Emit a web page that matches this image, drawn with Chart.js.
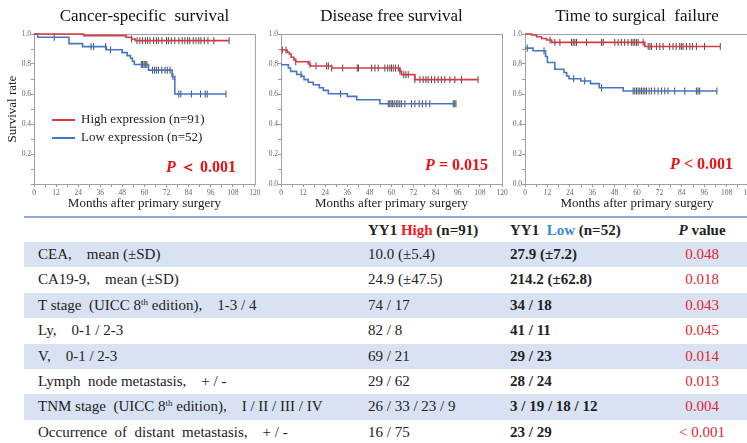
<!DOCTYPE html>
<html>
<head>
<meta charset="utf-8">
<script src="https://cdn.jsdelivr.net/npm/chart.js@4.4.0/dist/chart.umd.min.js"></script>
<style>
  body { margin: 0; width: 747px; height: 443px; overflow: hidden; background: #fff; position: relative;
         font-family: "Liberation Serif", "Times New Roman", serif; color: #222; }
  canvas { position: absolute; top: 0; }
  #c1 { left: 0; }
  #c2 { left: 255px; }
  #c3 { left: 505px; }
  #tbl { position: absolute; left: 24px; top: 216px; width: 723px; height: 227px; font-size: 15px; }
  .topline { position: absolute; left: 0; right: 0; top: 0; height: 2px; background: #8eaadb; }
  .headline { position: absolute; left: 0; right: 0; top: 26px; height: 1px; background: #8eaadb; }
  .row { position: absolute; left: 0; right: 0; height: 25.4px; line-height: 25.4px; white-space: pre; }
  .row.shade { background: #d9e2f3; }
  .row span { position: absolute; top: 0; }
  .c1 { left: 14px; }
  .c2 { left: 344px; }
  .c3 { left: 486px; font-weight: bold; }
  .c4 { left: 638px; width: 80px; text-align: center; color: #e3242b; }
  .hdr { font-weight: bold; }
  .hi { color: #ee1c25; }
  .lo { color: #3a8ad6; }
  sup { font-size: 9px; line-height: 0; vertical-align: 5px; }
</style>
</head>
<body>
<canvas id="c1" width="262" height="215"></canvas>
<canvas id="c2" width="255" height="215"></canvas>
<canvas id="c3" width="260" height="215"></canvas>
<div id="tbl"></div>

<script>
// axis tick labels
const monthLabels = [0, 12, 24, 36, 48, 60, 72, 84, 96, 108, 120];
const rateLabels = ['0.0', '0.2', '0.4', '0.6', '0.8', '1.0'];

// Cancer-specific survival
const cssHighT = [0, 27, 50, 53, 55, 106];
const cssHighS = [1, 0.989, 0.978, 0.967, 0.956, 0.956];
const cssHighC = [53, 56, 57.5, 59, 60.5, 61.7, 63, 65, 66.5, 67.6, 69.5, 72, 73, 74.6, 76.5, 78.7, 80.5, 82, 83.5, 84.6, 86.5, 88, 89.5, 90.7, 92.5, 94.5, 97.7, 106];
const cssLowT = [0, 2, 19, 26.4, 39.3, 47.9, 50.6, 52.4, 53.5, 54.5, 62.2, 75, 76.5, 104.3];
const cssLowS = [1, 0.978, 0.936, 0.916, 0.895, 0.876, 0.856, 0.838, 0.818, 0.797, 0.759, 0.717, 0.6, 0.6];
const cssLowC = [11, 31, 32.4, 38.9, 41.6, 58.3, 59, 59.8, 60.5, 61.3, 64.4, 65.5, 66.5, 67.6, 69.4, 71.2, 72.4, 73.9, 75.5, 78.7, 79.8, 85.5, 90.5, 93, 94.1, 104.3];

// Disease free survival
const dfsHighT = [0, 3.4, 4.5, 5.5, 7, 8, 14.8, 16, 27.5, 64.6, 65.5, 72.7, 107];
const dfsHighS = [0.893, 0.878, 0.867, 0.845, 0.827, 0.815, 0.8, 0.787, 0.773, 0.751, 0.729, 0.696, 0.696];
const dfsHighC = [0.7, 2.7, 8, 15.7, 19, 24.8, 25.7, 27.5, 33.5, 41.4, 42.1, 49.2, 51, 52.8, 56.4, 57.9, 59.1, 60, 61, 62.2, 63.7, 64.6, 66.7, 67.8, 69.1, 72.7, 75.4, 77.2, 78.7, 79.9, 81.7, 83.5, 85.3, 87.1, 88.9, 91.7, 94.4, 98, 107];
const dfsLowT = [0, 4, 5.2, 8.5, 11.2, 12.5, 14.8, 17.5, 20.8, 23, 25.7, 36, 41.1, 53.7, 95];
const dfsLowS = [0.795, 0.773, 0.751, 0.73, 0.718, 0.696, 0.678, 0.662, 0.642, 0.624, 0.602, 0.584, 0.562, 0.535, 0.535];
const dfsLowC = [10.9, 32.4, 58.2, 59, 59.8, 60.6, 61.5, 62.6, 63.5, 64.5, 65.5, 67.3, 70.9, 72.7, 75, 76.8, 78.7, 80.8, 93.5, 94.3, 95];

// Time to surgical failure
const tsfHighT = [0, 3.6, 6.2, 8.9, 11.6, 14.3, 64.2, 104.6];
const tsfHighS = [1, 0.993, 0.982, 0.97, 0.96, 0.944, 0.917, 0.917];
const tsfHighC = [13.4, 16, 18.7, 24.9, 25.8, 26.7, 27.6, 33, 41, 41.9, 48.1, 49.9, 51.6, 53.4, 55.2, 57, 57.9, 58.8, 59.7, 60.6, 63.3, 66, 66.9, 67.8, 70.4, 72.2, 74, 77.5, 79.3, 81, 82.9, 83.8, 84.7, 86.5, 88.3, 89.7, 91.8, 96.2, 104.6];
const tsfLowT = [0, 4.3, 11, 12, 16, 20.9, 22.3, 23.6, 29.9, 35.1, 39.8, 52.6, 102.8];
const tsfLowS = [0.906, 0.888, 0.85, 0.81, 0.765, 0.743, 0.72, 0.702, 0.687, 0.669, 0.642, 0.62, 0.62];
const tsfLowC = [1.2, 10.2, 26.1, 32, 41, 57.9, 58.8, 59.7, 60.6, 61.5, 62.4, 63.3, 64.2, 65.1, 66.5, 67.7, 69.5, 71.3, 73.1, 74.9, 76.6, 80.2, 85.6, 91.8, 92.7, 93.6, 102.8];

// table
const rowLabels = ['CEA,    mean (\u00b1SD)', 'CA19-9,    mean (\u00b1SD)', 'T stage  (UICC 8<sup>th</sup> edition),    1-3 / 4', 'Ly,    0-1 / 2-3', 'V,    0-1 / 2-3', 'Lymph  node metastasis,    + / -', 'TNM stage  (UICC 8<sup>th</sup> edition),    I / II / III / IV', 'Occurrence  of  distant  metastasis,    + / -'];
const highVals = ['10.0 (\u00b15.4)', '24.9 (\u00b147.5)', '74 / 17', '82 / 8', '69 / 21', '29 / 62', '26 / 33 / 23 / 9', '16 / 75'];
const lowVals = ['27.9 (\u00b17.2)', '214.2 (\u00b162.8)', '34 / 18', '41 / 11', '29 / 23', '28 / 24', '3 / 19 / 18 / 12', '23 / 29'];
const pVals = ['0.048', '0.018', '0.043', '0.045', '0.014', '0.013', '0.004', '< 0.001'];

const RED = '#d83a45';
const BLUE = '#4574c8';
const SERIF = '"Liberation Serif", "Times New Roman", serif';
Chart.defaults.font.family = SERIF;

function stepAt(times, surv, t) {
  let s = surv[0];
  for (let i = 0; i < times.length; i++) if (times[i] <= t) s = surv[i];
  return s;
}

function curve(label, color, T, S) {
  return {
    label: label, data: T.map((t, i) => ({ x: t, y: S[i] })),
    stepped: 'before', borderColor: color, borderWidth: 1.6,
    pointRadius: 0, fill: false, clip: false
  };
}

function censors(T, S, C) {
  return {
    label: '', data: C.map(c => ({ x: c, y: stepAt(T, S, c) })),
    showLine: false, pointStyle: 'line', rotation: 90, pointRadius: 3.5,
    pointBorderColor: '#4a4a4a', pointBorderWidth: 1, clip: false
  };
}

const framePlugin = {
  id: 'frame',
  beforeDatasetsDraw(chart) {
    const { ctx, chartArea: a } = chart;
    ctx.save();
    ctx.strokeStyle = '#a0a0a0';
    ctx.lineWidth = 1;
    ctx.strokeRect(Math.round(a.left) + 0.5, Math.round(a.top) + 0.5, a.right - a.left, a.bottom - a.top);
    ctx.restore();
  }
};

const legendPlugin = {
  id: 'kmLegend',
  afterDraw(chart, args, opts) {
    if (!opts.show) return;
    const { ctx, chartArea: a } = chart;
    ctx.save();
    ctx.font = '13px ' + SERIF;
    ctx.textBaseline = 'middle';
    [0, 1].forEach(i => {
      const ds = chart.data.datasets[i];
      const y = a.top + 86 + i * 18;
      ctx.strokeStyle = ds.borderColor;
      ctx.lineWidth = 2;
      ctx.beginPath();
      ctx.moveTo(a.left + 18, y);
      ctx.lineTo(a.left + 41, y);
      ctx.stroke();
      ctx.fillStyle = '#222';
      ctx.fillText(ds.label, a.left + 47, y);
    });
    ctx.restore();
  }
};

const pPlugin = {
  id: 'pText',
  afterDraw(chart, args, opts) {
    const { ctx, chartArea: a } = chart;
    ctx.save();
    ctx.fillStyle = '#ee1111';
    ctx.textBaseline = 'middle';
    ctx.font = 'italic bold 16px ' + SERIF;
    const wP = ctx.measureText('P').width;
    ctx.font = 'bold 16px ' + SERIF;
    const wR = ctx.measureText(opts.rest).width;
    const x = a.right - opts.right - wP - wR;
    const y = a.bottom - opts.bottom;
    ctx.font = 'italic bold 16px ' + SERIF;
    ctx.fillText('P', x, y);
    ctx.font = 'bold 16px ' + SERIF;
    ctx.fillText(opts.rest, x + wP, y);
    ctx.restore();
  }
};

function makeKM(id, c) {
  new Chart(document.getElementById(id), {
    type: 'line',
    data: {
      datasets: [
        curve('High expression (n=91)', RED, c.hT, c.hS),
        curve('Low expression (n=52)', BLUE, c.lT, c.lS),
        censors(c.hT, c.hS, c.hC),
        censors(c.lT, c.lS, c.lC)
      ]
    },
    plugins: [framePlugin, legendPlugin, pPlugin],
    options: {
      responsive: false,
      animation: false,
      layout: { padding: { left: 0, right: c.padRight, top: 0, bottom: 0 } },
      scales: {
        x: {
          type: 'linear', min: 0, max: 120,
          afterFit: s => { s.height = 31; },
          border: { color: '#999' },
          grid: { drawOnChartArea: false, tickLength: 3, color: '#999' },
          ticks: {
            stepSize: 6, autoSkip: false, maxRotation: 0, padding: 1.5,
            font: { size: 7.5 }, color: '#666',
            callback: v => monthLabels.includes(v) ? String(v) : ''
          },
          title: { display: true, text: 'Months after primary surgery', color: '#222',
                   font: { size: 13 }, padding: { top: 0, bottom: 4 } }
        },
        y: {
          min: 0, max: 1,
          afterFit: s => { s.width = c.yWidth; },
          border: { color: '#999' },
          grid: { drawOnChartArea: false, tickLength: 3, color: '#999' },
          ticks: {
            stepSize: 0.1, autoSkip: false, padding: 0,
            font: { size: 7.5 }, color: '#666',
            callback: v => {
              const lab = v.toFixed(1);
              if (c.hideZero && lab === '0.0') return '';
              return rateLabels.includes(lab) ? lab : '';
            }
          },
          title: { display: !!c.yTitle, text: c.yTitle || '', color: '#222',
                   font: { size: 13 }, padding: { top: 5, bottom: 0 } }
        }
      },
      plugins: {
        legend: { display: false },
        tooltip: { enabled: false },
        title: {
          display: true, text: c.title, color: '#111', fullSize: false,
          font: { size: 17, weight: 'normal', lineHeight: 1.2 },
          padding: { top: 6, bottom: 7.6 }
        },
        kmLegend: { show: !!c.legend },
        pText: { rest: c.pRest, right: c.pRight, bottom: c.pBottom }
      }
    }
  });
}

makeKM('c1', {
  title: 'Cancer-specific  survival', yTitle: 'Survival rate', yWidth: 34, padRight: 5,
  hT: cssHighT, hS: cssHighS, hC: cssHighC, lT: cssLowT, lS: cssLowS, lC: cssLowC,
  legend: true, hideZero: true, pRest: ' \uff1c 0.001', pRight: 19, pBottom: 16
});
makeKM('c2', {
  title: 'Disease free survival', yWidth: 26, padRight: 8,
  hT: dfsHighT, hS: dfsHighS, hC: dfsHighC, lT: dfsLowT, lS: dfsLowS, lC: dfsLowC,
  pRest: ' = 0.015', pRight: 14, pBottom: 18
});
makeKM('c3', {
  title: 'Time to surgical  failure', yWidth: 20, padRight: 16,
  hT: tsfHighT, hS: tsfHighS, hC: tsfHighC, lT: tsfLowT, lS: tsfLowS, lC: tsfLowC,
  pRest: ' < 0.001', pRight: 16, pBottom: 19
});

// table
const tbl = document.getElementById('tbl');
let html = '<div class="topline"></div>';
html += '<div class="row hdr" style="top:2px;height:24px;line-height:24px">' +
  '<span class="c2">YY1 <span class="hi" style="position:static">High</span> (n=91)</span>' +
  '<span class="c3">YY1  <span class="lo" style="position:static">Low</span> (n=52)</span>' +
  '<span class="c4" style="color:#222"><i>P</i> value</span></div>';
html += '<div class="headline"></div>';
rowLabels.forEach((lab, i) => {
  const top = 26 + i * 25.4;
  html += '<div class="row' + (i % 2 === 0 ? ' shade' : '') + '" style="top:' + top + 'px">' +
    '<span class="c1">' + lab + '</span>' +
    '<span class="c2">' + highVals[i] + '</span>' +
    '<span class="c3">' + lowVals[i] + '</span>' +
    '<span class="c4">' + pVals[i] + '</span></div>';
});
tbl.innerHTML = html;
</script>
</body>
</html>
